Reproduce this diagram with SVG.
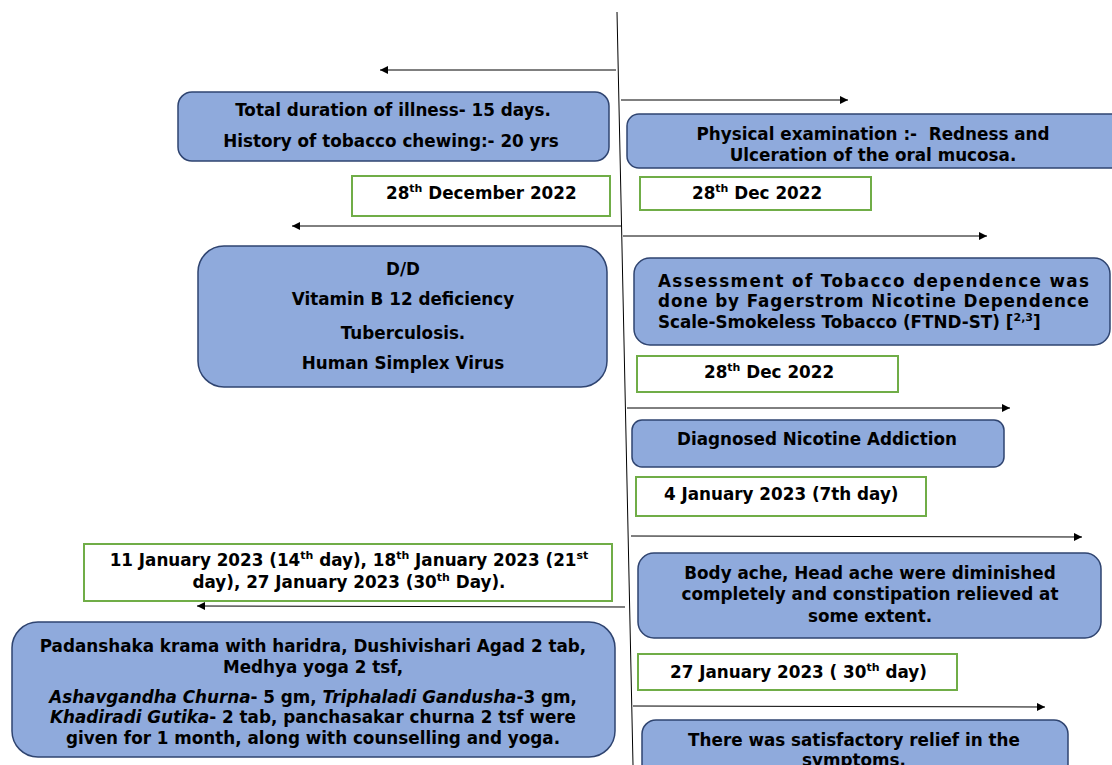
<svg xmlns="http://www.w3.org/2000/svg" width="1112" height="765" viewBox="0 0 1112 765">
<style>
.b{fill:#8FAADC;stroke:#2F4470;stroke-width:1.5}
.g{fill:#fff;stroke:#70AD47;stroke-width:2}
.t{font-family:"DejaVu Sans",Verdana,sans-serif;font-weight:bold;font-size:16.8px;fill:#000}
.c{text-anchor:middle}
.ln{stroke:#000;stroke-width:1;fill:none}
.sup{font-size:11px}
</style>
<defs>
<marker id="ah" viewBox="0 0 10 10" refX="10" refY="5" markerWidth="10" markerHeight="8" markerUnits="userSpaceOnUse" orient="auto">
<path d="M0,0 L10,5 L0,10 Z" fill="#000"/>
</marker>
</defs>
<rect width="1112" height="765" fill="#fff"/>
<g id="connectors">
<line class="ln" x1="617" y1="12" x2="633" y2="765"/>
<line class="ln" x1="616" y1="70" x2="380" y2="70" marker-end="url(#ah)"/>
<line class="ln" x1="621" y1="100" x2="848" y2="100" marker-end="url(#ah)"/>
<line class="ln" x1="621" y1="226" x2="292" y2="226" marker-end="url(#ah)"/>
<line class="ln" x1="623" y1="236" x2="987" y2="236" marker-end="url(#ah)"/>
<line class="ln" x1="627" y1="408" x2="1010" y2="408" marker-end="url(#ah)"/>
<line class="ln" x1="631" y1="536" x2="1082" y2="537" marker-end="url(#ah)"/>
<line class="ln" x1="625" y1="607" x2="197" y2="606" marker-end="url(#ah)"/>
<line class="ln" x1="633" y1="706" x2="1045" y2="707" marker-end="url(#ah)"/>
</g>
<g id="n1">
<rect class="b" x="178" y="92" width="431" height="69" rx="14"/>
<text class="t c" x="393" y="116">Total duration of illness- 15 days.</text>
<text class="t c" x="391" y="147">History of tobacco chewing:- 20 yrs</text>
</g>
<g id="n2">
<rect class="g" x="352" y="176" width="258" height="40"/>
<text class="t" x="386" y="199">28<tspan class="sup" dy="-7">th</tspan><tspan dy="7"> December 2022</tspan></text>
</g>
<g id="n3">
<rect class="b" x="627" y="114" width="500" height="54" rx="12"/>
<text class="t c" x="873" y="140" xml:space="preserve">Physical examination :-  Redness and</text>
<text class="t c" x="873" y="161">Ulceration of the oral mucosa.</text>
</g>
<g id="n4">
<rect class="g" x="640" y="177" width="231" height="33"/>
<text class="t" x="692" y="199">28<tspan class="sup" dy="-7">th</tspan><tspan dy="7"> Dec 2022</tspan></text>
</g>
<g id="n5">
<rect class="b" x="198" y="246" width="409" height="141" rx="26"/>
<text class="t c" x="403" y="275">D/D</text>
<text class="t c" x="403" y="305">Vitamin B 12 deficiency</text>
<text class="t c" x="403" y="339">Tuberculosis.</text>
<text class="t c" x="403" y="369">Human Simplex Virus</text>
</g>
<g id="n6">
<rect class="b" x="634" y="258" width="476" height="87" rx="16"/>
<text class="t" x="658" y="287" textLength="431" lengthAdjust="spacing">Assessment of Tobacco dependence was</text>
<text class="t" x="658" y="307" textLength="431" lengthAdjust="spacing">done by Fagerstrom Nicotine Dependence</text>
<text class="t" x="658" y="328">Scale-Smokeless Tobacco (FTND-ST) [<tspan class="sup" dy="-7">2,3</tspan><tspan dy="7">]</tspan></text>
</g>
<g id="n7">
<rect class="g" x="637" y="356" width="261" height="36"/>
<text class="t" x="704" y="378">28<tspan class="sup" dy="-7">th</tspan><tspan dy="7"> Dec 2022</tspan></text>
</g>
<g id="n8">
<rect class="b" x="632" y="420" width="372" height="47" rx="10"/>
<text class="t c" x="817" y="445">Diagnosed Nicotine Addiction</text>
</g>
<g id="n9">
<rect class="g" x="636" y="477" width="290" height="39"/>
<text class="t" x="664" y="500">4 January 2023 (7th day)</text>
</g>
<g id="n10">
<rect class="g" x="84" y="544" width="528" height="57"/>
<text class="t c" x="349" y="566">11 January 2023 (14<tspan class="sup" dy="-7">th</tspan><tspan dy="7"> day), 18</tspan><tspan class="sup" dy="-7">th</tspan><tspan dy="7"> January 2023 (21</tspan><tspan class="sup" dy="-7">st</tspan><tspan dy="7"></tspan></text>
<text class="t c" x="349" y="588">day), 27 January 2023 (30<tspan class="sup" dy="-7">th</tspan><tspan dy="7"> Day).</tspan></text>
</g>
<g id="n11">
<rect class="b" x="638" y="553" width="463" height="85" rx="16"/>
<text class="t c" x="870" y="579">Body ache, Head ache were diminished</text>
<text class="t c" x="870" y="600">completely and constipation relieved at</text>
<text class="t c" x="870" y="622">some extent.</text>
</g>
<g id="n12">
<rect class="g" x="638" y="654" width="319" height="36"/>
<text class="t" x="670" y="678">27 January 2023 ( 30<tspan class="sup" dy="-7">th</tspan><tspan dy="7"> day)</tspan></text>
</g>
<g id="n13">
<rect class="b" x="12" y="622" width="603" height="135" rx="26"/>
<text class="t c" x="313" y="652">Padanshaka krama with haridra, Dushivishari Agad 2 tab,</text>
<text class="t c" x="313" y="673">Medhya yoga 2 tsf,</text>
<text class="t c" x="313" y="703"><tspan font-style="italic">Ashavgandha Churna</tspan>- 5 gm, <tspan font-style="italic">Triphaladi Gandusha</tspan>-3 gm,</text>
<text class="t c" x="313" y="723"><tspan font-style="italic">Khadiradi Gutika</tspan>- 2 tab, panchasakar churna 2 tsf were</text>
<text class="t c" x="313" y="744">given for 1 month, along with counselling and yoga.</text>
</g>
<g id="n14">
<rect class="b" x="642" y="720" width="426" height="70" rx="14"/>
<text class="t c" x="854" y="746">There was satisfactory relief in the</text>
<text class="t c" x="854" y="766">symptoms.</text>
</g>
</svg>
